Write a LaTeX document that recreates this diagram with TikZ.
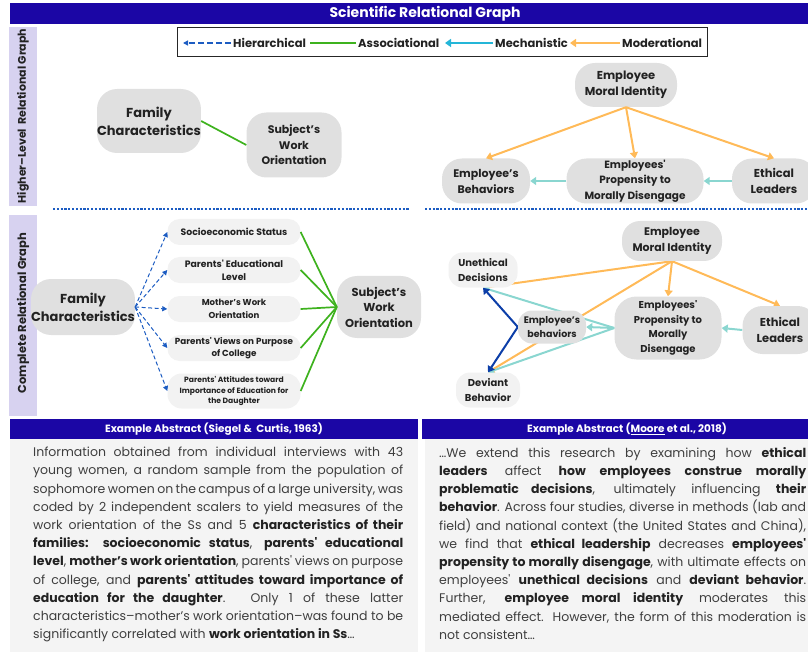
\documentclass[tikz,border=0pt]{standalone}
\usepackage{fontspec}
\setmainfont{Poppins}
\usetikzlibrary{arrows.meta,positioning,backgrounds}
\definecolor{barblue}{RGB}{27,6,165}
\definecolor{sidelav}{RGB}{215,210,240}
\definecolor{hierblue}{RGB}{28,92,194}
\definecolor{solidblue}{RGB}{12,62,168}
\definecolor{assocgreen}{RGB}{62,178,30}
\definecolor{mechcyan}{RGB}{36,182,216}
\definecolor{mechteal}{RGB}{138,214,208}
\definecolor{modorange}{RGB}{255,186,88}
\definecolor{pillgray}{RGB}{224,224,224}
\definecolor{boxgray}{RGB}{242,242,242}
\definecolor{panelgray}{RGB}{244,244,244}
\definecolor{inkgray}{RGB}{34,34,34}
\definecolor{bodygray}{RGB}{62,62,62}
\newcommand{\kw}[1]{\textbf{\color{inkgray}#1}}
\tikzset{>={Triangle[length=6pt,width=8pt]},
  pill/.style={fill=pillgray, rounded corners=#1, align=center, text=inkgray, inner sep=0pt},
  pill/.default=20pt,
  tag/.style={fill=boxgray, rounded corners=12pt, align=center, text=inkgray, inner sep=0pt,
    minimum width=133pt, minimum height=26pt, font=\bfseries\fontsize{9.3}{13}\selectfont},
  legtxt/.style={anchor=west, inner sep=2pt, text=inkgray, font=\bfseries\fontsize{11.5}{14}\selectfont},
  sidelbl/.style={rotate=90, text=inkgray, font=\bfseries\fontsize{11}{14}\selectfont},
  barlbl/.style={text=white, font=\bfseries\fontsize{10.5}{12}\selectfont},
  abstract/.style={anchor=north west, inner sep=0pt, align=justify, text=bodygray,
    font=\fontsize{12.5}{18.2}\selectfont},
  hier/.style={hierblue, line width=1pt, dash pattern=on 4pt off 2.5pt, >={Triangle[length=5pt,width=5pt]}},
  assoc/.style={assocgreen, line width=1.7pt},
  mech/.style={mechteal, line width=2pt},
  mod/.style={modorange, line width=2pt},
  sep/.style={hierblue, line width=2.5pt, dash pattern=on 2.2pt off 1.6pt}
}
\begin{document}
\begin{tikzpicture}[x=1pt,y=-1pt]
  \useasboundingbox (0,0) rectangle (808,652);
  % title bar and side labels
  \fill[barblue] (10,3) rectangle (808,24);
  \node[text=white, font=\bfseries\fontsize{14}{16}\selectfont] (title) at (425,14) {Scientific Relational Graph};
  \fill[sidelav] (9,27) rectangle (37,206);
  \fill[sidelav] (9,215) rectangle (37,416);
  \node[sidelbl] (hlgl) at (23,116) {Higher--Level\ \ Relational Graph};
  \node[sidelbl, font=\bfseries\fontsize{11.5}{14}\selectfont] (crgl) at (23,313) {Complete Relational Graph};
  \draw[sep] (53,209) -- (409,209);
  \draw[sep] (425,209) -- (808,209);

  % legend
  \draw[line width=1pt, black!85] (177,28) rectangle (707,57);
  \node[legtxt] (hierkey) at (231,43) {Hierarchical};
  \coordinate (hiertip) at (183,43);
  \draw[hier, line width=1.7pt, dash pattern=on 6pt off 3pt, ->] (hierkey.west) -- (hiertip);
  \node[legtxt] (assockey) at (356,43) {Associational};
  \coordinate (assocend) at (310,43);
  \draw[assoc] (assockey.west) -- (assocend);
  \node[legtxt] (mechkey) at (493,43) {Mechanistic};
  \coordinate (mechtip) at (445,43);
  \draw[mech, mechcyan, ->] (mechkey.west) -- (mechtip);
  \node[legtxt] (modkey) at (620,43) {Moderational};
  \coordinate (modtip) at (570,43);
  \draw[mod, ->] (modkey.west) -- (modtip);

  % higher-level graphs
  \node[pill, minimum width=103pt, minimum height=64pt, font=\bfseries\fontsize{13}{18}\selectfont] (famtop) at (149,121) {Family\\Characteristics};
  \node[pill, minimum width=95pt, minimum height=65pt, font=\bfseries\fontsize{11}{15.5}\selectfont] (subjtop) at (294,145) {Subject's\\Work\\Orientation};
  \draw[assoc] (famtop.east) -- (subjtop.west);

  \node[pill, minimum width=102pt, minimum height=44pt, font=\bfseries\fontsize{11.5}{16}\selectfont] (emitop) at (626,85) {Employee\\Moral Identity};
  \node[pill, minimum width=88pt, minimum height=45pt, font=\bfseries\fontsize{11}{16}\selectfont] (behtop) at (486,181) {Employee's\\Behaviors};
  \node[pill, minimum width=137pt, minimum height=45pt, font=\bfseries\fontsize{10.5}{15.5}\selectfont] (proptop) at (635,181) {Employees\textquotesingle\\Propensity to\\Morally Disengage};
  \node[pill, minimum width=84pt, minimum height=45pt, font=\bfseries\fontsize{11.5}{16}\selectfont] (ethtop) at (774,181) {Ethical\\Leaders};
  \draw[mod, ->] (emitop.south) -- (behtop.north);
  \draw[mod, ->] (emitop.south) -- (proptop.north);
  \draw[mod, ->] (emitop.south) -- (ethtop.north);
  \draw[mech, ->] (ethtop.west) -- (proptop.east);
  \draw[mech, ->] (proptop.west) -- (behtop.east);

  % complete graphs
  \node[pill, minimum width=92pt, minimum height=56pt, font=\bfseries\fontsize{13}{18}\selectfont] (famlow) at (83,307) {Family\\Characteristics};
  \node[tag] (ses) at (234,232) {Socioeconomic Status};
  \node[tag] (pel) at (234,270) {Parents\textquotesingle{} Educational\\Level};
  \node[tag, font=\bfseries\fontsize{8.6}{12.5}\selectfont] (mwo) at (234,309) {Mother's Work\\Orientation};
  \node[tag, font=\bfseries\fontsize{8.8}{12.5}\selectfont] (pvc) at (234,348) {Parents\textquotesingle{} Views on Purpose\\of College};
  \node[tag, minimum height=35pt, rounded corners=14pt, font=\bfseries\fontsize{7.6}{10.5}\selectfont] (pai) at (234,391) {Parents\textquotesingle{} Attitudes toward\\Importance of Education for\\the Daughter};
  \node[pill, minimum width=84pt, minimum height=62pt, font=\bfseries\fontsize{11.5}{15.5}\selectfont] (subjlow) at (379,307) {Subject's\\Work\\Orientation};
  \foreach \n in {ses,pel,mwo,pvc,pai} {
    \draw[hier, ->] (famlow.east) -- (\n.west);
    \draw[assoc] (\n.east) -- (subjlow.west);
  }

  \node[pill=14pt, fill=boxgray, minimum width=69pt, minimum height=35pt, font=\bfseries\fontsize{10}{14.5}\selectfont] (ued) at (483,270) {Unethical\\Decisions};
  \node[pill=14pt, fill=boxgray, minimum width=64pt, minimum height=35pt, font=\bfseries\fontsize{10}{14.5}\selectfont] (devb) at (488,390) {Deviant\\Behavior};
  \node[pill=14pt, minimum width=68pt, minimum height=33pt, font=\bfseries\fontsize{9.5}{13.5}\selectfont] (ebeh) at (552,327) {Employee's\\behaviors};
  \node[pill=22pt, minimum width=107pt, minimum height=63pt, font=\bfseries\fontsize{10}{14.5}\selectfont] (prop) at (668,328) {Employees\textquotesingle\\Propensity to\\Morally\\Disengage};
  \node[pill=18pt, minimum width=100pt, minimum height=40pt, font=\bfseries\fontsize{11}{16}\selectfont] (emilow) at (672,241) {Employee\\Moral Identity};
  \node[pill, minimum width=75pt, minimum height=48pt, font=\bfseries\fontsize{11.5}{16}\selectfont] (ethlow) at (780,330) {Ethical\\Leaders};
  \begin{pgfonlayer}{background}
    \draw[mod, ->] (emilow.south) -- (ued.south);
    \draw[mod, ->] (emilow.south) -- (devb.north);
    \draw[mod, ->] (emilow.south) -- (prop.north);
    \draw[mod, ->] (emilow.south) -- (ethlow.north);
    \draw[mech, ->] (ethlow.west) -- (prop.east);
    \draw[mech, ->] (prop.west) -- (ebeh.east);
    \draw[mech, ->] (prop.west) -- (ued.south);
    \draw[mech, ->] (prop.west) -- (devb.north);
    \draw[solidblue, line width=2pt, ->] (ebeh.west) -- (ued.south);
    \draw[solidblue, line width=2pt, ->] (ebeh.west) -- (devb.north);
  \end{pgfonlayer}

  % example abstracts
  \fill[barblue] (10,419) rectangle (418,439);
  \node[barlbl] (abshdl) at (214,429) {Example Abstract (Siegel \&\ \ Curtis, 1963)};
  \fill[panelgray] (10,439) rectangle (418,652);
  \fill[barblue] (422,419) rectangle (808,439);
  \node[barlbl] (abshdr) at (627,429) {Example Abstract (\underline{Moore} et al., 2018)};
  \fill[panelgray] (425,439) rectangle (808,652);

  \node[abstract, text width=370pt] (absleft) at (33,447) {Information obtained from individual interviews with 43\linebreak
    young women, a random sample from the population of\linebreak
    sophomore women on the campus of a large university, was\linebreak
    coded by 2 independent scalers to yield measures of the\linebreak
    work orientation of the Ss and 5 \kw{characteristics of their\linebreak
    families: socioeconomic status}, \kw{parents\textquotesingle{} educational\linebreak
    level}, \kw{mother's work orientation}, parents\textquotesingle{} views on purpose\linebreak
    of college, and \kw{parents\textquotesingle{} attitudes toward importance of\linebreak
    education for the daughter}. Only 1 of these latter\linebreak
    characteristics--mother's work orientation--was found to be\linebreak
    significantly correlated with \kw{work orientation in Ss}…};
  \node[abstract, text width=367pt] (absright) at (439,447) {…We extend this research by examining how \kw{ethical\linebreak
    leaders} affect \kw{how employees construe morally\linebreak
    problematic decisions}, ultimately influencing \kw{their\linebreak
    behavior}. Across four studies, diverse in methods (lab and\linebreak
    field) and national context (the United States and China),\linebreak
    we find that \kw{ethical leadership} decreases \kw{employees\textquotesingle\linebreak
    propensity to morally disengage}, with ultimate effects on\linebreak
    employees\textquotesingle{} \kw{unethical decisions} and \kw{deviant behavior}.\linebreak
    Further, \kw{employee moral identity} moderates this\linebreak
    mediated effect. However, the form of this moderation is\linebreak
    not consistent…};
\end{tikzpicture}
\end{document}
